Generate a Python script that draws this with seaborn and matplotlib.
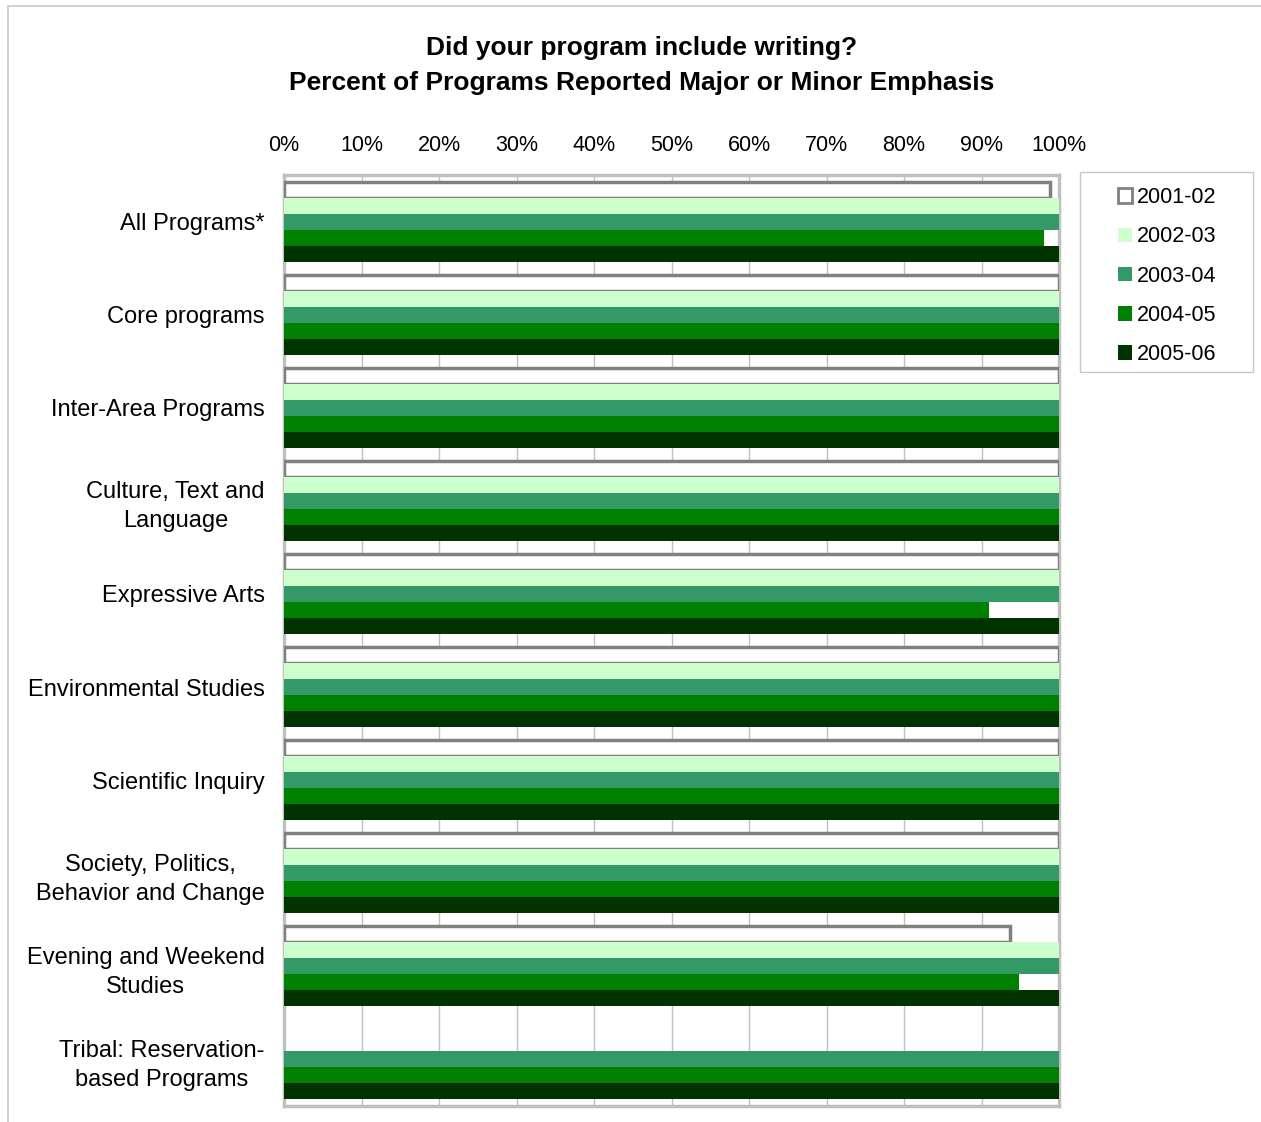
import numpy as np
import pandas as pd
import matplotlib
matplotlib.use("Agg")
import matplotlib.pyplot as plt
import seaborn as sns
from matplotlib.patches import Patch, Rectangle

# Datos
programs = ["All Programs*", "Core programs", "Inter-Area Programs",
            "Culture, Text and\nLanguage", "Expressive Arts",
            "Environmental Studies", "Scientific Inquiry",
            "Society, Politics,\nBehavior and Change",
            "Evening and Weekend\nStudies", "Tribal: Reservation-\nbased Programs"]
years = ["2001-02", "2002-03", "2003-04", "2004-05", "2005-06"]

y2001 = [0.988, 1.0, 1.0, 1.0, 1.0, 1.0, 1.0, 1.0, 0.937, np.nan]
y2002 = [1.0, 1.0, 1.0, 1.0, 1.0, 1.0, 1.0, 1.0, 1.0, np.nan]
y2003 = [1.0, 1.0, 1.0, 1.0, 1.0, 1.0, 1.0, 1.0, 1.0, 1.0]
y2004 = [0.980, 1.0, 1.0, 1.0, 0.910, 1.0, 1.0, 1.0, 0.948, 1.0]
y2005 = [1.0, 1.0, 1.0, 1.0, 1.0, 1.0, 1.0, 1.0, 1.0, 1.0]

colors = ["#ffffff", "#ccffcc", "#339966", "#008000", "#003300"]

rows = []
for yr, vals in zip(years, [y2001, y2002, y2003, y2004, y2005]):
    for p, v in zip(programs, vals):
        if not np.isnan(v):
            rows.append({"Program": p, "Year": yr, "Pct": v})
df = pd.DataFrame(rows)

sns.set_style("white")
plt.rcParams["font.family"] = ["Liberation Sans", "DejaVu Sans"]
plt.rcParams["text.color"] = "black"
plt.rcParams["xtick.color"] = "black"
plt.rcParams["ytick.color"] = "black"

W, H = 1261, 1122
fig = plt.figure(figsize=(W / 100, H / 100), dpi=100)
ax = fig.add_axes([284 / W, 1 - 1106 / H, 775 / W, 931 / H])

sns.barplot(data=df, y="Program", x="Pct", hue="Year", order=programs,
            hue_order=years, palette=colors, orient="h", width=0.86,
            errorbar=None, saturation=1, linewidth=0, ax=ax, zorder=3)

# Serie 2001-02: barra blanca con borde gris
for bar in ax.containers[0]:
    bar.set_edgecolor("#808080")
    bar.set_linewidth(2.5)

ax.set_xlim(0, 1)
ax.set_ylim(len(programs) - 0.5, -0.5)
ticks = np.arange(0, 1.01, 0.1)
ax.set_xticks(ticks)
ax.set_xticklabels([f"{int(round(t * 100))}%" for t in ticks])
ax.xaxis.tick_top()
ax.tick_params(axis="x", length=0, pad=13.5, labelsize=15.5)
ax.tick_params(axis="y", length=0, pad=14, labelsize=17)
for lbl in ax.get_yticklabels():
    lbl.set_multialignment("center")
    lbl.set_linespacing(1.4)
ax.set_xlabel("")
ax.set_ylabel("")
ax.grid(axis="x", color="#c0c0c0", linewidth=1, zorder=0)
for s in ax.spines.values():
    s.set_color("#c0c0c0")
    s.set_linewidth(2.5)

fig.text(642 / W, 1 - 48 / H, "Did your program include writing?",
         ha="center", va="center", fontsize=19, fontweight="bold")
fig.text(642 / W, 1 - 83 / H, "Percent of Programs Reported Major or Minor Emphasis",
         ha="center", va="center", fontsize=19, fontweight="bold")

# Leyenda con marco propio
ax.get_legend().remove()
handles = [Patch(facecolor=c, edgecolor=("#808080" if i == 0 else c),
                 linewidth=(2 if i == 0 else 0)) for i, c in enumerate(colors)]
fig.legend(handles, years, loc="upper left",
           bbox_to_anchor=(1118 / W, 1 - 187 / H),
           frameon=False, fontsize=15.5,
           handlelength=0.65, handleheight=0.65, handletextpad=0.25,
           labelspacing=0.85, borderpad=0, borderaxespad=0)
fig.patches.append(Rectangle((1080 / W, 1 - 372 / H), 173 / W, 200 / H,
                             transform=fig.transFigure, fill=False,
                             edgecolor="#c8c8c8", linewidth=1))

# Borde exterior del gráfico
fig.patches.append(Rectangle((8 / W, -0.01), 1.0, 1 - 6 / H + 0.01,
                             transform=fig.transFigure, fill=False,
                             edgecolor="#c8c8c8", linewidth=1.2))

fig.savefig("out.png", dpi=100)
